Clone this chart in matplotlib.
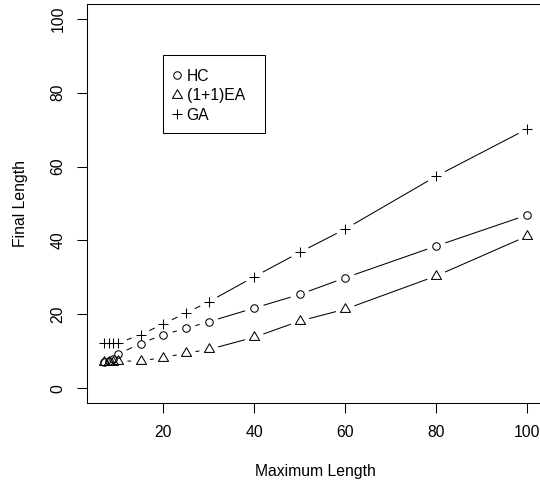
import numpy as np
import matplotlib
matplotlib.use("Agg")
import matplotlib.pyplot as plt
from matplotlib.lines import Line2D
from matplotlib.patches import Rectangle
from matplotlib.path import Path

plt.rcParams['font.family'] = ['Liberation Sans', 'DejaVu Sans']

# data
max_length = [7, 8, 9, 10, 15, 20, 25, 30, 40, 50, 60, 80, 100]
hc = [7.2, 7.5, 8.0, 9.2, 12.1, 14.5, 16.2, 18.0, 21.7, 25.4, 29.9, 38.5, 46.9]
ea = [7.0, 7.1, 7.2, 7.3, 7.4, 8.3, 9.5, 10.5, 13.8, 18.2, 21.4, 30.4, 41.2]
ga = [12.2, 12.2, 12.2, 12.2, 14.5, 17.4, 20.4, 23.4, 30.2, 36.8, 43.1, 57.4, 70.2]
series_names = ["HC", "(1+1)EA", "GA"]
x_ticks = [20, 40, 60, 80, 100]
y_ticks = [0, 20, 40, 60, 80, 100]

W, H = 540, 484
fig = plt.figure(figsize=(W / 100, H / 100), dpi=100)

# plot region in pixels (right edge runs slightly past the image, as in the reference)
left, right, top, bottom = 87.3, 544.2, 4.0, 403.0
ax = fig.add_axes([left / W, 1 - bottom / H, (right - left) / W, (bottom - top) / H])

# R style 4% axis extension
def r_lim(lo, hi):
    ext = 0.04 * (hi - lo)
    return lo - ext, hi + ext

ax.set_xlim(*r_lim(min(max_length), max(max_length)))
ax.set_ylim(*r_lim(0, 100))

lw = 0.75
# R pch=2 style triangle, centred on its centroid
tri = Path([(0, 1), (0.866, -0.5), (-0.866, -0.5), (0, 1)],
           [Path.MOVETO, Path.LINETO, Path.LINETO, Path.CLOSEPOLY])
styles = [dict(marker='o', ms=5.4), dict(marker=tri, ms=8.4), dict(marker='+', ms=7.6)]
gap_px = 9.6  # like R type="b": segments stop short of each point


def gapped_line(xs, ys):
    pts = ax.transData.transform(np.column_stack([xs, ys]))
    segx, segy = [], []
    for (x0, y0), (x1, y1) in zip(pts[:-1], pts[1:]):
        dist = np.hypot(x1 - x0, y1 - y0)
        f = gap_px / dist
        if f < 0.5:
            a = (x0 + f * (x1 - x0), y0 + f * (y1 - y0))
            b = (x1 + f * (x0 - x1), y1 + f * (y0 - y1))
            da, db = ax.transData.inverted().transform([a, b])
            segx += [da[0], db[0], np.nan]
            segy += [da[1], db[1], np.nan]
    ax.plot(segx, segy, color='black', lw=lw, solid_capstyle='butt')


for ys, st in zip([hc, ea, ga], styles):
    gapped_line(max_length, ys)
    ax.plot(max_length, ys, linestyle='none', color='black', mfc='none',
            mew=lw, **st)

for sp in ax.spines.values():
    sp.set_linewidth(lw)

ax.set_xticks(x_ticks)
ax.set_yticks(y_ticks)
ax.tick_params(axis='both', length=7.2, width=lw, labelsize=11.3, colors='black')
ax.tick_params(axis='x', pad=8.6)
ax.tick_params(axis='y', pad=8.5)
for lab in ax.get_yticklabels():
    lab.set_rotation(90)
    lab.set_va('center')

ax.set_xlabel("Maximum Length", fontsize=11.3)
ax.set_ylabel("Final Length", fontsize=11.3)
ax.xaxis.set_label_coords(0.5, (bottom - 471.7) / (bottom - top))
ax.xaxis.label.set_va('center')
ax.yaxis.set_label_coords((21 - left) / (right - left), 0.5)
ax.yaxis.label.set_va('center')

# legend drawn the way R's legend() lays it out
def fx(px):
    return px / W

def fy(py):
    return 1 - py / H

box_l, box_r, box_t, box_b = 163, 265, 55, 133
fig.add_artist(Rectangle((fx(box_l), fy(box_b)), fx(box_r) - fx(box_l), fy(box_t) - fy(box_b),
                         transform=fig.transFigure, fill=False, edgecolor='black', lw=lw))
row_y = [75, 94.5, 114]
for ry, st, name in zip(row_y, styles, series_names):
    fig.add_artist(Line2D([fx(177)], [fy(ry)], transform=fig.transFigure, linestyle='none',
                          color='black', mfc='none', mew=lw, **st))
    fig.text(fx(186.5), fy(ry + 5.6), name, fontsize=11.3, va='baseline', ha='left')

fig.savefig("out.png", dpi=100)
